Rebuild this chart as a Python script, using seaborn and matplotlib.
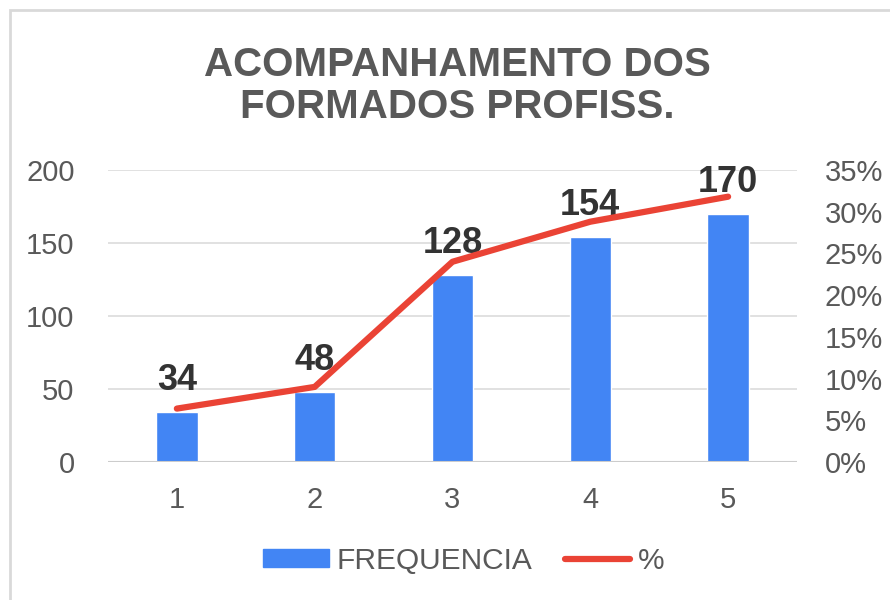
import matplotlib
matplotlib.use("Agg")
import matplotlib.pyplot as plt
import matplotlib.patches as mpatches
from matplotlib.lines import Line2D
import pandas as pd
import seaborn as sns

# values
categorias = ["1", "2", "3", "4", "5"]
frequencia = [34, 48, 128, 154, 170]
percentual = [0.064, 0.090, 0.240, 0.288, 0.318]

titulo = "ACOMPANHAMENTO DOS\nFORMADOS PROFISS."
cor_barra = "#4285f4"
cor_linha = "#ea4335"
cor_texto = "#595959"

sns.set_theme(style="white")
plt.rcParams["font.family"] = ["Liberation Sans", "DejaVu Sans"]

df = pd.DataFrame({"cat": categorias, "freq": frequencia, "pct": percentual})

fig = plt.figure(figsize=(8.9, 6), dpi=100)
ax = fig.add_axes([0.1213, 0.23, 0.7742, 0.4867])

sns.barplot(data=df, x="cat", y="freq", color=cor_barra, width=0.30,
            saturation=1, ax=ax)
ax.set_ylim(0, 200)
ax.set_yticks([0, 50, 100, 150, 200])
ax.set_xlim(-0.5, 4.5)
ax.set_xlabel("")
ax.set_ylabel("")
ax.grid(axis="y", color="#dcdcdc", linewidth=1.2)
ax.set_axisbelow(True)
for s in ax.spines.values():
    s.set_visible(False)
ax.axhline(0, color="#cccccc", linewidth=1.5, zorder=1)
ax.tick_params(axis="both", length=0, labelsize=21, colors=cor_texto)
ax.tick_params(axis="y", pad=24)
ax.tick_params(axis="x", pad=17)

# rotulos das barras
for i, f in enumerate(frequencia):
    ax.annotate(str(f), (i, f), xytext=(0, 16), textcoords="offset points",
                ha="center", va="baseline", fontsize=26, fontweight="bold",
                color="#333333", zorder=5)

ax2 = ax.twinx()
sns.lineplot(x=list(range(len(categorias))), y=percentual, color=cor_linha,
             linewidth=4.5, ax=ax2, solid_capstyle="round")
ax2.set_ylim(0, 0.35)
ax2.set_yticks([i * 0.05 for i in range(8)])
ax2.set_yticklabels([f"{i * 5}%" for i in range(8)])
ax2.tick_params(axis="y", length=0, labelsize=21, colors=cor_texto, pad=20)
for s in ax2.spines.values():
    s.set_visible(False)

fig.text(0.514, 0.857, titulo, ha="center", va="center", fontsize=29,
         fontweight="bold", color=cor_texto, linespacing=1.15)

handles = [mpatches.Patch(color=cor_barra),
           Line2D([0], [0], color=cor_linha, linewidth=4.5, solid_capstyle="round")]
fig.legend(handles, ["FREQUENCIA", "%"], loc="center", bbox_to_anchor=(0.521, 0.065),
           ncol=2, frameon=False, fontsize=21.5, labelcolor=cor_texto,
           handlelength=2.2, handleheight=0.55, handletextpad=0.25,
           columnspacing=1.1)

fig.patches.append(mpatches.Rectangle((10 / 890, -0.1), 1.2, 1 - 10 / 600 + 0.1,
                                      transform=fig.transFigure, fill=False,
                                      edgecolor="#d9d9d9", linewidth=2))

fig.savefig("out.png", dpi=100)
